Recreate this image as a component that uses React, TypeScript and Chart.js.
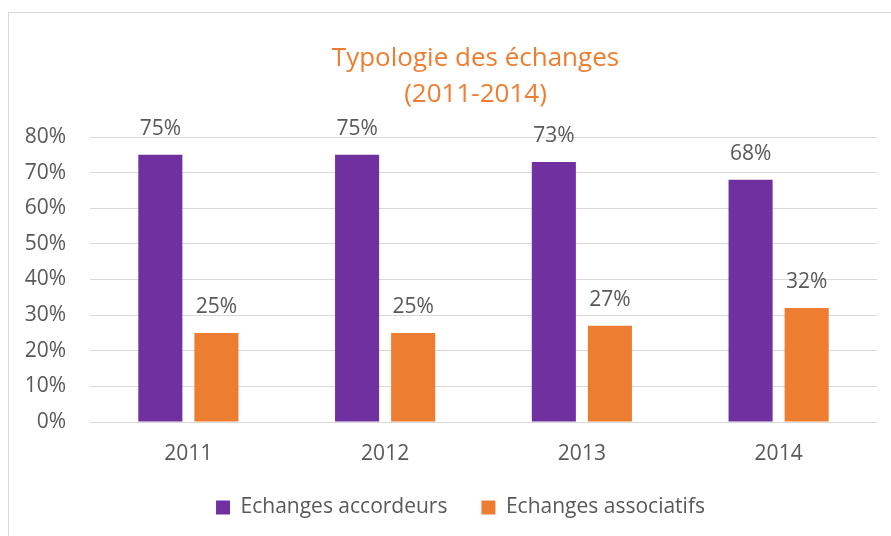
import React, { useEffect, useRef } from "react";
import { Chart, registerables } from "chart.js";

Chart.register(...registerables);

const categories = ["2011", "2012", "2013", "2014"];
const accordeurs = [75, 75, 73, 68];
const associatifs = [25, 25, 27, 32];
const seriesNames = ["Echanges accordeurs", "Echanges associatifs"];
const titleLines = ["Typologie des échanges", "(2011-2014)"];
const yMax = 80;
const yStep = 10;

const PURPLE = "#7030A0";
const ORANGE = "#ED7D31";
const TEXT = "#595959";
const GRID = "#D9D9D9";
const FONT = "'Open Sans', sans-serif";

const dataLabels = {
  id: "dataLabels",
  afterDatasetsDraw(chart: any) {
    const ctx = chart.ctx;
    ctx.save();
    ctx.font = `21px ${FONT}`;
    ctx.fillStyle = TEXT;
    ctx.textAlign = "center";
    ctx.textBaseline = "middle";
    chart.data.datasets.forEach((ds: any, i: number) => {
      const meta = chart.getDatasetMeta(i);
      meta.data.forEach((bar: any, j: number) => {
        ctx.fillText(ds.data[j] + "%", bar.x, bar.y - 26);
      });
    });
    ctx.restore();
  },
};

const boxShift = {
  id: "boxShift",
  afterLayout(chart: any) {
    if (chart.legend) {
      chart.legend.left += 22;
      chart.legend.right += 22;
    }
    if (chart.titleBlock) {
      chart.titleBlock.left += 37;
      chart.titleBlock.right += 37;
    }
  },
};

export default function App() {
  const ref = useRef<HTMLCanvasElement>(null);
  useEffect(() => {
    if (!ref.current) return;
    const chart = new Chart(ref.current, {
      type: "bar",
      data: {
        labels: categories,
        datasets: [
          { label: seriesNames[0], data: accordeurs, backgroundColor: PURPLE },
          { label: seriesNames[1], data: associatifs, backgroundColor: ORANGE },
        ],
      },
      options: {
        animation: false,
        responsive: false,
        devicePixelRatio: 1,
        layout: { padding: { left: 0, right: 14, top: 0, bottom: 8 } },
        datasets: { bar: { categoryPercentage: 0.57, barPercentage: 0.786 } },
        plugins: {
          tooltip: { enabled: false },
          title: {
            display: true,
            text: titleLines,
            color: ORANGE,
            font: { family: FONT, size: 26, weight: "normal", lineHeight: 36 / 26 },
            padding: { top: 41, bottom: 24 },
          },
          legend: {
            position: "bottom",
            labels: {
              color: TEXT,
              font: { family: FONT, size: 21 },
              boxWidth: 14,
              boxHeight: 14,
              padding: 34,
            },
          },
        },
        scales: {
          x: {
            grid: { display: false, drawTicks: false },
            border: { display: false },
            ticks: { color: TEXT, font: { family: FONT, size: 21 }, padding: 19 },
            afterFit: (s: any) => { s.height = 41; },
          },
          y: {
            min: 0,
            max: yMax,
            grid: { color: GRID, lineWidth: 1, drawTicks: false },
            border: { display: false },
            ticks: {
              stepSize: yStep,
              color: TEXT,
              font: { family: FONT, size: 21 },
              padding: 24,
              callback: (v: any) => v + "%",
            },
            afterFit: (s: any) => { s.width = 90; },
          },
        },
      },
      plugins: [dataLabels, boxShift],
    });
    return () => chart.destroy();
  }, []);
  return (
    <div style={{ position: "absolute", left: 0, top: 0, width: 891, height: 536, overflow: "hidden" }}>
      <div
        style={{
          position: "absolute",
          left: 8,
          top: 12,
          width: 883,
          height: 524,
          borderTop: `1px solid ${GRID}`,
          borderLeft: `1px solid ${GRID}`,
        }}
      />
      <canvas ref={ref} width={891} height={536} style={{ position: "absolute", left: 0, top: 0 }} />
    </div>
  );
}
